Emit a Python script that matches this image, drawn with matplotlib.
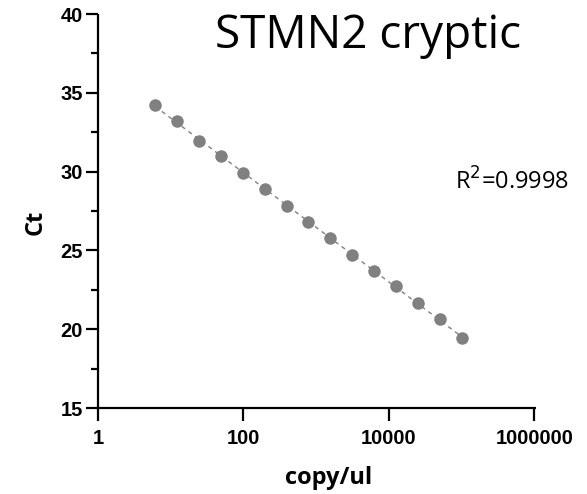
import numpy as np
from matplotlib import pyplot as plt
from matplotlib.ticker import FixedLocator, NullFormatter

# standard curve: 2-fold dilutions
copies = [6.1, 12.2, 24.4, 48.8, 97.7, 195, 391, 781, 1562.5, 3125,
          6250, 12500, 25000, 50000, 100000]
ct = [34.23, 33.21, 31.94, 30.99, 29.89, 28.91, 27.82, 26.79, 25.77, 24.71,
      23.72, 22.76, 21.66, 20.66, 19.42]
xticks = [1, 100, 10000, 1000000]
xticklabels = ["1", "100", "10000", "1000000"]
yticks = [15, 20, 25, 30, 35, 40]

fig = plt.figure(figsize=(5.87, 4.94), dpi=100)
ax = fig.add_axes([98 / 587, 1 - 408 / 494, (536 - 98) / 587, (408 - 14) / 494])

logx = np.log10(copies)
slope, icpt = np.polyfit(logx, ct, 1)
ax.plot(copies, slope * logx + icpt, linestyle=(0, (3, 3)), color="#808080", lw=1.0, zorder=2)
ax.plot(copies, ct, "o", color="#808080", markersize=9, markeredgewidth=0, zorder=3)

ax.set_xscale("log")
ax.set_xlim(1, 1.05e6)
ax.set_ylim(15, 40)
ax.xaxis.set_major_locator(FixedLocator(xticks))
ax.set_xticklabels(xticklabels)
ax.xaxis.set_minor_formatter(NullFormatter())
ax.xaxis.set_minor_locator(FixedLocator([]))
ax.set_yticks(yticks)
ax.yaxis.set_minor_locator(FixedLocator([17.5, 22.5, 27.5, 32.5, 37.5]))

for s in ["top", "right"]:
    ax.spines[s].set_visible(False)
for s in ["left", "bottom"]:
    ax.spines[s].set_linewidth(1.6)
    ax.spines[s].set_capstyle("butt")

ax.tick_params(which="major", length=9, width=1.6, direction="out", pad=2)
ax.tick_params(which="minor", length=5, width=1.6, direction="out")
ax.tick_params(axis="x", pad=6)
for lbl in ax.get_xticklabels() + ax.get_yticklabels():
    lbl.set_fontfamily("Liberation Sans")
    lbl.set_fontweight("bold")
    lbl.set_fontsize(14.5)

fig.text(329 / 587, 1 - 478 / 494, "copy/ul", fontfamily="Open Sans", fontweight="bold",
         fontsize=17, ha="center", va="center")
fig.text(36 / 587, 1 - 222 / 494, "Ct", fontfamily="Open Sans", fontweight="bold",
         fontsize=17, ha="center", va="center", rotation=90)

fig.text(368 / 587, 1 - 36 / 494, "STMN2 cryptic", fontfamily="Open Sans", fontsize=33,
         ha="center", va="center")
fig.text(455 / 587, 1 - 182 / 494, "R$^2$=0.9998", fontfamily="Open Sans", fontsize=17,
         ha="left", va="center")

fig.savefig("out.png", dpi=100)
